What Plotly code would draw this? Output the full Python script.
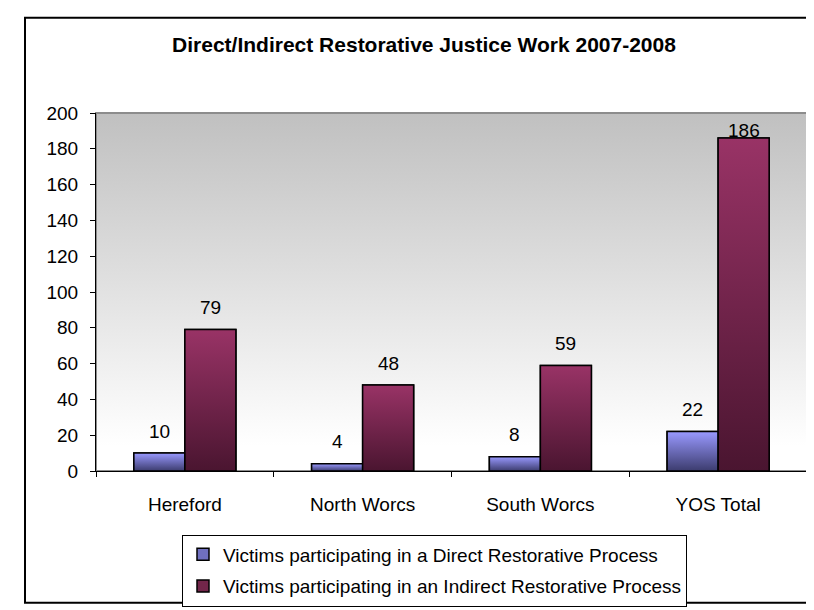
import base64
import plotly.graph_objects as go

# ---- data ----
categories = ["Hereford", "North Worcs", "South Worcs", "YOS Total"]
direct_values = [10, 4, 8, 22]
indirect_values = [79, 48, 59, 186]
series_names = [
    "Victims participating in a Direct Restorative Process",
    "Victims participating in an Indirect Restorative Process",
]
title_text = "Direct/Indirect Restorative Justice Work 2007-2008"
y_ticks = [0, 20, 40, 60, 80, 100, 120, 140, 160, 180, 200]

# ---- style ----
FONT = "Liberation Sans, Arial, sans-serif"
FS = 19
BAR_W = 0.287
series_styles = [
    dict(offset=-BAR_W, light="#9999ff", dark="#3c3c6e", mid="#7070c0"),
    dict(offset=0.0, light="#993366", dark="#4a1530", mid="#72264a"),
]
W, H = 814, 610
ML, MR, MT, MB = 88, 15, 105, 133
PW, PH = W - ML - MR, H - MT - MB

fig = go.Figure()
x_idx = list(range(len(categories)))

for k, (name, vals, st) in enumerate(zip(series_names, [direct_values, indirect_values], series_styles)):
    fig.add_trace(go.Bar(
        x=x_idx, y=vals, name=name, width=BAR_W, offset=st["offset"],
        legendgroup="g%d" % k,
        marker=dict(color=st["mid"], line=dict(color="black", width=1.5)),
        hoverinfo="y",
    ))

# gradient overlay for each bar, computed from the same values
for vals, st in zip([direct_values, indirect_values], series_styles):
    for i, v in enumerate(vals):
        x0 = i + st["offset"]
        x1 = x0 + BAR_W
        fig.add_trace(go.Scatter(
            x=[x0, x0, x1, x1, x0], y=[0, v, v, 0, 0],
            mode="lines", fill="toself",
            fillgradient=dict(type="vertical",
                              colorscale=[[0, st["dark"]], [1, st["light"]]]),
            line=dict(color="black", width=1.5),
            showlegend=False, hoverinfo="skip",
        ))

# value labels
px_per_unit = PH / 200.0
for vals, st in zip([direct_values, indirect_values], series_styles):
    for i, v in enumerate(vals):
        shift = min(22, (200 - v) * px_per_unit - 18)
        fig.add_annotation(
            x=i + st["offset"] + BAR_W / 2, y=v, text=str(v), showarrow=False,
            yshift=shift, yanchor="middle", font=dict(family=FONT, size=FS, color="black"),
        )

# background gradient as inline svg
svg = ('<svg xmlns="http://www.w3.org/2000/svg" width="100" height="100" preserveAspectRatio="none">'
       '<defs><linearGradient id="g" x1="0" y1="0" x2="0" y2="1">'
       '<stop offset="0" stop-color="#c0c0c0"/><stop offset="0.93" stop-color="#ffffff"/>'
       '</linearGradient></defs><rect width="100" height="100" fill="url(#g)"/></svg>')
uri = "data:image/svg+xml;base64," + base64.b64encode(svg.encode()).decode()

fig.update_layout(
    width=W, height=H,
    margin=dict(l=ML, r=MR, t=MT, b=MB),
    paper_bgcolor="white", plot_bgcolor="rgba(0,0,0,0)",
    font=dict(family=FONT, size=FS, color="black"),
    barmode="overlay",
    images=[dict(source=uri, xref="paper", yref="paper", x=0, y=1, sizex=1, sizey=1,
                 sizing="stretch", layer="below")],
    title=dict(text="<b>" + title_text + "</b>", x=(416 - ML) / PW, xref="paper",
               xanchor="center", y=1 - 37 / H, yanchor="middle",
               font=dict(family=FONT, size=21, color="black")),
    xaxis=dict(range=[-0.5, len(categories) - 0.5], tickvals=x_idx, ticktext=categories,
               ticks="", showgrid=False, zeroline=False, showline=True, linecolor="black",
               linewidth=1, ticklabelstandoff=16,
               minor=dict(tickvals=[i - 0.5 for i in range(len(categories) + 1)],
                          ticks="outside", ticklen=5, tickcolor="black", showgrid=False),
               fixedrange=True),
    yaxis=dict(range=[0, 200], tickvals=y_ticks, ticks="outside", ticklen=5, tickcolor="black",
               showgrid=False, zeroline=False, showline=True, linecolor="black", linewidth=1,
               ticklabelstandoff=8, fixedrange=True),
    legend=dict(x=(174 - ML) / PW, xanchor="left", y=(477 - 543) / PH, yanchor="top",
                bordercolor="black", borderwidth=1, bgcolor="white",
                font=dict(family=FONT, size=FS), itemwidth=30, tracegroupgap=4,
                traceorder="grouped"),
    shapes=[
        dict(type="rect", xref="paper", yref="paper", x0=0, x1=1, y0=0, y1=1,
             line=dict(color="#8c8c8c", width=2), layer="below"),
        dict(type="rect", xref="paper", yref="paper",
             x0=(17 - ML) / PW, x1=(810 - ML) / PW, y0=(477 - 614) / PH, y1=(477 - 6) / PH,
             line=dict(color="black", width=2), layer="below"),
    ],
)

fig.write_html("out.html")
